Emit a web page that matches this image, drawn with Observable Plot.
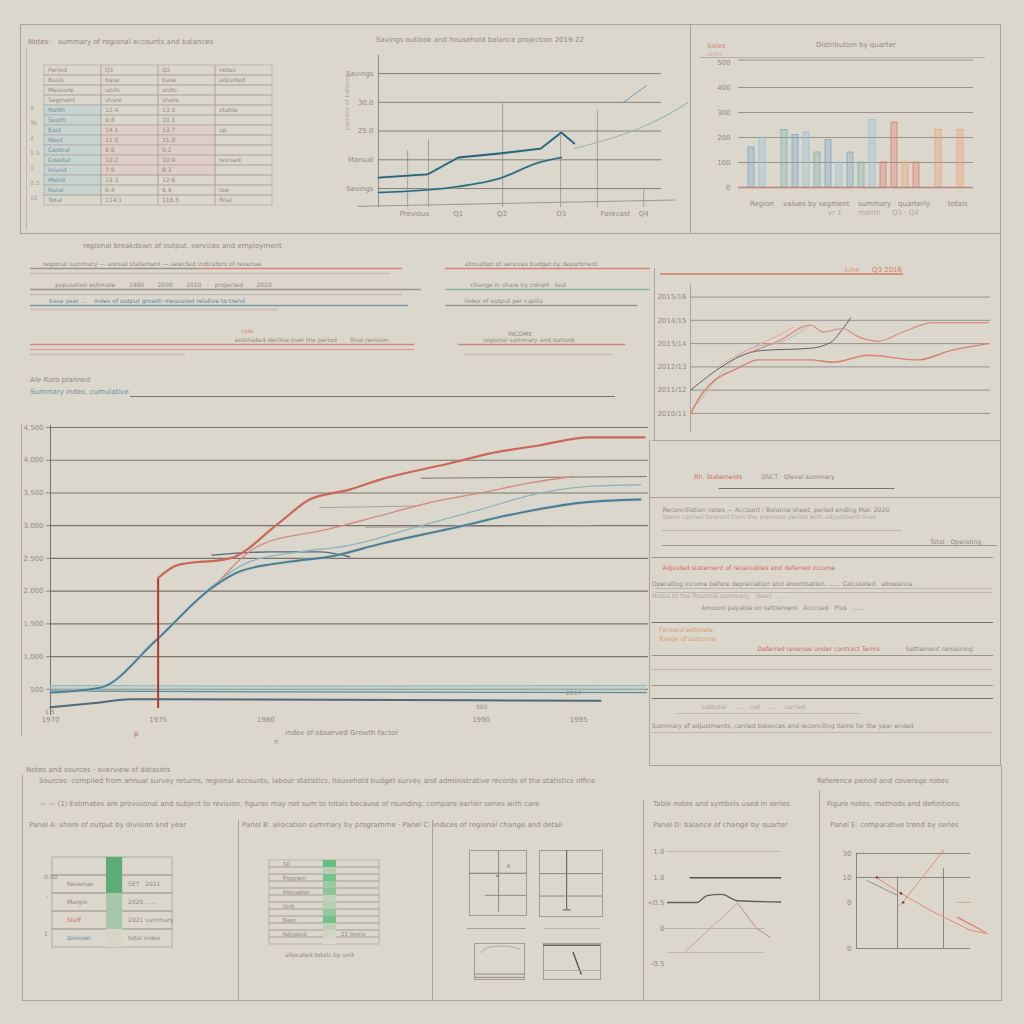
<!DOCTYPE html>
<html><head><meta charset="utf-8">
<script src="https://cdn.jsdelivr.net/npm/d3@7"></script>
<script src="https://cdn.jsdelivr.net/npm/@observablehq/plot@0.6"></script>
<style>
html,body{margin:0;padding:0;background:#dcd7cd;}
#page{position:relative;width:1024px;height:1024px;overflow:hidden;background:#dcd7cd;font-family:"DejaVu Sans",sans-serif;}
.ln{position:absolute;background:#a8a49c;}
.tx{position:absolute;font-size:7px;line-height:8px;color:#8e8a83;white-space:nowrap;font-family:"DejaVu Sans",sans-serif;}
.pl{position:absolute;}
.pl svg{overflow:visible;}
</style></head><body><div id="page"></div>
<script>
// ================= DATA =================
// --- top-left table ---
const tableCols = ["Item","2019","2020","Remarks"];
const tableRows = ["Period","Basis","Measure","Segment","North","South","East","West","Central","Coastal","Inland","Metro","Rural","Total"];
const tableQ1 = ["Q1","base","units","share","12.4","9.8","14.1","11.0","8.6","10.2","7.9","13.3","6.4","114.1"];
const tableQ2 = ["Q2","base","units","share","13.0","10.1","13.7","11.8","9.2","10.9","8.3","12.6","6.9","116.5"];
const tableNotes = ["notes","adjusted","","","stable","","up","","","revised","","","low","final"];

// --- top-middle line chart ---
const tmGrid = [1,2,3,4,5];
const tmYLabels = ["Savings","Manual","25.0","30.0","Savings"];
const tmXTicks = [1.4,3.1,4.8,7.1,9.2,10.3];
const tmXLabels = ["Previous","Q1","Q2","Q3","Forecast","Q4"];
const tmDark = [[0,1.38],[1.9,1.49],[3.1,2.08],[4.7,2.22],[6.3,2.39],[7.1,2.95],[7.6,2.57]];
const tmMid = [[0,0.86],[3.1,1.07],[4.7,1.35],[6.2,1.9],[7.1,2.08]];
const tmLight = [[7.6,2.39],[10.2,3.12],[11.5,3.71],[12,3.99]];
const tmShort = [[9.5,3.99],[10.4,4.58]];
const tmBase = [[-0.8,0.38],[11.5,0.6]];
const tmMarkers = [[1.13,2.3],[1.94,2.7],[4.82,3.95],[7.07,2.95],[8.5,3.7],[10.3,0.95]];

// --- top-right bar chart ---
const barVals = [1.6,2.0,null,2.3,2.1,2.2,1.4,1.9,1.0,1.4,1.0,2.7,1.0,2.6,1.0,1.0,null,2.3,null,2.3];
const barGroup = ["a","b","a","c","a","b","c","a","b","a","c","b","r","r","o","r","r","o","r","o"];
const barYLabels = ["0","100","200","300","400","500"];

// --- middle-right line chart ---
const mrYLabels = ["2010/11","2011/12","2012/13","2013/14","2014/15","2015/16"];
const mrDark = [[0,1.0],[2.8,2.7],[4.8,2.8],[5.6,3.05],[6.1,3.65],[6.4,4.1]];
const mrRed1 = [[0,0],[0.5,0.9],[2,2.0],[2.7,2.3],[4.8,2.3],[5.7,2.2],[7.1,2.5],[9.1,2.3],[10.4,2.7],[11.9,3.0]];
const mrRed2 = [[2.3,2.6],[3.5,3.1],[4.8,3.8],[5.3,3.5],[6.1,3.65],[6.7,3.3],[7.5,3.1],[8.5,3.5],[9.7,3.9],[11.9,3.9]];
const mrLight = [[0.3,0.43],[2.4,2.8],[3.7,3.1],[4.8,3.8]];
const mrRose = [[1.2,2.1],[2.6,2.9],[3.6,3.4],[4.1,3.7]];

// --- main line chart ---
const mainGrid = [1,2,3,4,5,6,7,8,9];
const mainYLabels = ["500","1,000","1,500","2,000","2,500","3,000","3,500","4,000","4,500"];
const mainXTicks = [0,5.4,10.8,21.6,26.5];
const mainXLabels = ["1970","1975","1980","1990","1995"];
const mainRedDrop = [[5.4,0.45],[5.4,4.4]];
const mainRed = [[5.4,4.4],[6.4,4.8],[9,5.0],[11.5,6.1],[13,6.8],[15,7.1],[16.5,7.4],[18.5,7.7],[20,7.9],[22,8.2],[24.5,8.45],[27,8.7],[29.8,8.7]];
const mainBlue = [[0,0.9],[2.5,1.05],[5.3,2.5],[8.1,4.1],[9.5,4.6],[12,4.9],[14,5.05],[16.6,5.45],[20,5.9],[23.6,6.4],[26.6,6.7],[29.6,6.8]];
const mainTeal = [[7.8,4.0],[10,4.9],[12.5,5.2],[15,5.4],[18.6,6.0],[21.6,6.5],[24.6,7.0],[27,7.2],[29.6,7.25]];
const mainRose = [[8.3,4.2],[10.5,5.4],[14,5.9],[16.5,6.3],[19,6.7],[21.6,7.0],[24,7.3],[26.2,7.5]];
const mainSlate = [[8.1,5.1],[11,5.2],[13.5,5.2],[15,5.05]];
const mainBase = [[0,0.45],[2.5,0.6],[4,0.7],[14,0.68],[27.6,0.65]];
const mainBand = [[0,1.12,0.95],[12,1.1,0.92],[29.9,1.12,0.9]];
const mainGray1 = [[18.6,7.45],[29.9,7.5]];
const mainGray2 = [[13.5,6.55],[18.3,6.6]];
const mainGray3 = [[15.8,5.95],[27.2,6.0]];

// --- middle-left strips (row in text lines, from/to in % of width) ---
const stripRows = [
 {row:0, from:0, to:27, kind:"gray"},{row:0, from:27, to:60, kind:"red"},{row:0.5, from:0, to:58, kind:"pale"},
 {row:0, from:67, to:100, kind:"red"},
 {row:2.1, from:0, to:63, kind:"gray"},{row:2.6, from:0, to:60, kind:"pale"},{row:2.1, from:67, to:100, kind:"teal"},
 {row:3.7, from:0, to:61, kind:"blue"},{row:4.1, from:0, to:40, kind:"pale"},{row:3.7, from:67, to:98, kind:"gray"},
 {row:7.6, from:0, to:62, kind:"red"},{row:8.1, from:0, to:62, kind:"rose"},{row:7.6, from:69, to:96, kind:"red"},
 {row:8.6, from:0, to:25, kind:"pale"},{row:8.6, from:70, to:94, kind:"pale"}
];
const stripTexts = [
 {row:0, at:2, text:"regional summary — annual statement — selected indicators of revenue", kind:"gray"},
 {row:0, at:70, text:"allocation of services budget by department", kind:"gray"},
 {row:2.1, at:4, text:"population estimate   ·   1990   ·   2000   ·   2010   ·   projected   ·   2020", kind:"gray"},
 {row:2.1, at:71, text:"change in share by cohort · teal", kind:"gray"},
 {row:3.7, at:3, text:"base year ...    index of output growth measured relative to trend", kind:"blue"},
 {row:3.7, at:70, text:"index of output per capita", kind:"gray"},
 {row:6.7, at:34, text:"rate", kind:"rose"},
 {row:7.6, at:33, text:"estimated decline over the period   ·   final revision", kind:"gray"},
 {row:7.6, at:73, text:"regional summary and outlook", kind:"gray"},
 {row:7.0, at:77, text:"INCOME", kind:"gray"}
];

// --- right ledger panel ---
const ledgerRules = [
 {row:4.8, from:20, to:70, kind:"dark"},{row:9.0, from:4, to:72, kind:"light"},{row:10.5, from:4, to:99, kind:"mid"},
 {row:11.7, from:1, to:98, kind:"mid"},{row:14.8, from:2, to:98, kind:"light"},{row:15.2, from:2, to:98, kind:"light"},
 {row:18.2, from:1, to:98, kind:"dark"},{row:21.5, from:1, to:98, kind:"mid"},{row:22.9, from:1, to:98, kind:"light"},
 {row:24.5, from:1, to:98, kind:"mid"},{row:25.8, from:1, to:98, kind:"dark"},{row:27.3, from:8, to:60, kind:"light"},
 {row:29.2, from:1, to:98, kind:"light"}
];
const ledgerTexts = [
 {row:3.7, at:13, text:"Rh. Statements", kind:"red"},
 {row:3.7, at:32, text:"DSCT · Qlevel summary", kind:"gray"},
 {row:7.0, at:4, text:"Reconciliation notes — Account / Balance sheet, period ending Mar. 2020", kind:"gray"},
 {row:7.7, at:4, text:"items carried forward from the previous period with adjustment lines", kind:"light"},
 {row:10.2, at:80, text:"Total · Operating", kind:"gray"},
 {row:12.8, at:4, text:"Adjusted statement of receivables and deferred income", kind:"red"},
 {row:14.4, at:1, text:"Operating income before depreciation and amortisation ....... Calculated   allowance", kind:"gray"},
 {row:15.6, at:1, text:"Notes to the financial summary   (see)   ......", kind:"light"},
 {row:16.8, at:15, text:"Amount payable on settlement   Accrued   Plus   ......", kind:"gray"},
 {row:19.0, at:3, text:"Forward estimate", kind:"orange"},
 {row:19.9, at:3, text:"Range of outcome", kind:"orange"},
 {row:20.9, at:31, text:"Deferred revenue under contract Terms", kind:"red"},
 {row:20.9, at:73, text:"Settlement remaining", kind:"gray"},
 {row:26.7, at:15, text:"subtotal   ......   net   ......   carried", kind:"light"},
 {row:28.6, at:1, text:"Summary of adjustments, carried balances and reconciling items for the year ended", kind:"gray"}
];

// --- bottom panels ---
const p1Rows = ["Header","Revenue","Margin","Staff","Division"];
const p1Values = ["","SET   2021","2020 ......","2021 summary","total index"];
const p1Shade = [0.85,0.85,0.35,0.35,0.05];
const p1Kind = ["gray","gray","gray","red","blue"];
const p2Rows = ["SD","a","Program","b","Allocation","c","Unit","d","Base","e","Adjusted","f"];
const p2Values = ["","","","","","","","","","","21 items",""];
const p2Shade = [0.9,0.3,0.8,0.5,0.65,0.2,0.3,0.55,0.8,0.25,0.1,0];
const p4Labels = ["1.0","1.0","<0.5","0","-0.5"];
const p4Ticks = [4,2.96,1.98,0.95,-0.43];
const p4Top = [[0,4],[10,4]];
const p4Mid = [[2,2.96],[10,2.96]];
const p4Curve = [[0,1.98],[2.6,1.98],[3.5,2.25],[4.8,2.3],[6.2,2.05],[10,2.0]];
const p4Up = [[1.6,0.05],[6.2,1.95]];
const p4Down = [[6.2,1.95],[7.9,0.95],[9.1,0.6]];
const p4Base = [[-0.5,0.95],[8.5,0.95]];
const p4Low = [[0,0],[8.5,0]];
const p5Labels = ["30","10","0","0"];
const p5Ticks = [3,2.02,1,-0.88];
const p5Red1 = [[7.63,3.12],[4.04,1.0],[3.6,0.8]];
const p5Red2 = [[1.75,2.02],[3.9,1.37],[6.5,0.67],[10,-0.14],[11.5,-0.27]];
const p5Red3 = [[8.86,0.39],[11.3,-0.22]];
const p5Gray = [[0.9,1.9],[3.6,1.29]];
const p5Short = [[8.8,1],[10,1]];
const p5Verticals = [[0,3],[3.6,2.02],[7.63,2.4]];

// ================= HELPERS =================
const P = document.getElementById("page");
const ST = {background:"transparent", fontFamily:"DejaVu Sans, sans-serif", fontSize:"7px", color:"#8e8a83", overflow:"visible"};
const GRID = "#5f5b55";
const kindColors = {domain:["gray","red","pale","teal","blue","rose","dark","mid","light","orange"],
  range:["#9a968f","#d28678","#c3bcb3","#8fb3a8","#7c98a5","#d9a59b","#76726c","#9a968f","#bdb7ae","#dca171"]};
const textColors = {gray:"#8e8a83", red:"#cf6b5f", light:"#aea9a1", blue:"#5f89a0", orange:"#d99b6a", rose:"#cf8b80"};
function put(node, x, y){ const d=document.createElement("div"); d.className="pl"; d.style.left=x+"px"; d.style.top=y+"px"; d.appendChild(node); P.appendChild(d); }
function hl(x1,x2,y,c,w){ const d=document.createElement("div"); d.className="ln"; d.style.left=x1+"px"; d.style.top=y+"px"; d.style.width=(x2-x1)+"px"; d.style.height=(w||1)+"px"; if(c) d.style.background=c; P.appendChild(d); }
function vl(x,y1,y2,c,w){ const d=document.createElement("div"); d.className="ln"; d.style.left=x+"px"; d.style.top=y1+"px"; d.style.height=(y2-y1)+"px"; d.style.width=(w||1)+"px"; if(c) d.style.background=c; P.appendChild(d); }
function txt(s,x,y,o={}){ const d=document.createElement("div"); d.className="tx"; d.textContent=s; d.style.left=x+"px"; d.style.top=y+"px";
  if(o.c) d.style.color=o.c; if(o.s) d.style.fontSize=o.s+"px";
  if(o.i) d.style.fontStyle="italic"; if(o.rot){d.style.transform="rotate(-90deg)"; d.style.transformOrigin="left top";} P.appendChild(d); }
const xy = {x:d=>d[0], y:d=>d[1]};
const L = (data, stroke, w, extra={}) => Plot.line(data, {...xy, stroke, strokeWidth:w, curve:"monotone-x", ...extra});

// ================= FRAMES =================
hl(20,1000,24); hl(20,1000,233); vl(20,24,234); vl(690,24,234); vl(1000,24,440);
vl(26,48,230,"#bdb8af"); hl(700,985,57,"#b4afa7");
vl(654,268,440); hl(652,1000,440);
vl(649,440,765); hl(649,1000,497); hl(649,1002,765); vl(1000,440,765);
hl(130,615,396,"#77736d"); vl(21,424,736,"#b0aca4");
vl(22,775,1000); hl(22,1002,1000); vl(1001,765,1000);
vl(238,820,1000); vl(432,820,1000); vl(643,800,1000); vl(819,790,1000);
hl(467,526,928,"#a29e96"); hl(544,600,928,"#b9b4ab");

// ================= TITLES & TEXT =================
txt("Notes:",28,38,{c:"#9a7f72"});
txt("summary of regional accounts and balances",58,38);
txt("Savings outlook and household balance projection 2019-22",376,36);
txt("Sales",707,42,{c:"#d08f83"}); txt("units",707,50,{c:"#d8a89e",s:6});
txt("Distribution by quarter",816,41);
txt("Region",750,200); txt("values by segment",783,200);
txt("summary",858,200); txt("quarterly",898,200); txt("totals",948,200);
txt("yr 1",828,209,{c:"#b0aaa1"}); txt("month",858,209,{c:"#b0aaa1"}); txt("Q3 · Q4",892,209,{c:"#b0aaa1"});
txt("regional breakdown of output, services and employment",83,242);
txt("Line",845,266,{c:"#d8957f"}); txt("Q3 2016",872,266,{c:"#cf7d6c"});
txt("Ale Roro   planned",30,376,{i:true}); txt("Summary index, cumulative",30,388,{c:"#6d8ea0"});
txt("index of observed Growth factor",285,729);
txt("p",134,730,{c:"#b56458"}); txt("n",274,738);
txt("Notes and sources · overview of datasets",26,766);
txt("Sources: compiled from annual survey returns, regional accounts, labour statistics, household budget survey and administrative records of the statistics office",39,777);
txt("Reference period and coverage notes",817,777);
txt("— — (1) Estimates are provisional and subject to revision; figures may not sum to totals because of rounding; compare earlier series with care",39,800);
txt("Table notes and symbols used in series",653,800);
txt("Figure notes, methods and definitions",827,800);
txt("Panel A: share of output by division and year",29,821);
txt("Panel B: allocation summary by programme · Panel C: indices of regional change and detail",242,821);
txt("Panel D: balance of change by quarter",653,821);
txt("Panel E: comparative trend by series",830,821);
txt("0.00",44,873,{s:6}); txt("·",46,893); txt("1",44,930,{s:6});
txt("allocated totals by unit",285,951,{s:6});

// ================= CHARTS =================
// top-left table
const tableCells = [];
tableRows.forEach((r,i)=>tableCols.forEach((c,j)=>tableCells.push({row:r,col:c,i,j,
  text: j===0 ? r : j===1 ? tableQ1[i] : j===2 ? tableQ2[i] : tableNotes[i]})));
const tableTint = d => (d.j===0 && d.i>=4 && d.i<=12) ? "#c5d3d1" : ((d.j===1||d.j===2) && d.i>=6 && d.i<=10) ? "#dfcbc5" : "none";
put(Plot.plot({width:236, height:154, margin:3, style:ST,
  x:{domain:tableCols, axis:null, padding:0}, y:{domain:tableRows, axis:null, padding:0}, color:{type:"identity"},
  marks:[
    Plot.cell(tableCells,{x:"col", y:"row", fill:tableTint, stroke:"#a8a49c", strokeWidth:0.6, fillOpacity:0.85}),
    Plot.text(tableCells,{x:"col", y:"row", text:"text", fontSize:6, textAnchor:"start", dx:-25,
      fill:d=> d.j===0 && d.i>=4 ? "#6f8f99" : "#918d86"})
  ]}), 40, 58);
["5","3k","2","1.5","1","0.5","10"].forEach((s,i)=>txt(s,30,104+i*15,{s:6,c:"#9aa0a0"}));

// top-middle line chart
put(Plot.plot({width:350, height:195, marginLeft:38, marginRight:3, marginTop:25, marginBottom:18, style:ST,
  x:{domain:[0,12], ticks:tmXTicks, tickFormat:d=>tmXLabels[tmXTicks.indexOf(d)], tickSize:0, tickPadding:4, label:null},
  y:{domain:[0.34,5.63], ticks:tmGrid, tickFormat:d=>tmYLabels[tmGrid.indexOf(d)], tickSize:0, tickPadding:5, label:null},
  marks:[
    Plot.ruleY(tmGrid,{stroke:GRID, strokeOpacity:0.7, x1:0, x2:11}),
    Plot.ruleX([0],{stroke:GRID, strokeOpacity:0.6}),
    Plot.ruleX(tmMarkers,{x:d=>d[0], y1:0.34, y2:d=>d[1], stroke:"#8d8983", strokeOpacity:0.7}),
    L(tmBase,"#8c8882",0.8,{curve:"linear"}),
    L(tmMid,"#9fc9d2",3,{strokeOpacity:0.6}),
    L(tmMid,"#2f6777",1.6),
    L(tmDark,"#9fc9d2",3,{strokeOpacity:0.6, curve:"linear"}),
    L(tmDark,"#2a6474",1.8,{curve:"linear"}),
    L(tmLight,"#9db6bd",1.1),
    L(tmShort,"#6f9aa6",1,{curve:"linear"})
  ]}), 340, 30);
txt("percent of balance",343,130,{rot:true,s:6,c:"#aaa59e"});

// top-right bar chart
const barData = barVals.map((v,i)=>({i, v, g:barGroup[i]})).filter(d=>d.v!=null);
put(Plot.plot({width:300, height:185, marginLeft:43, marginRight:22, marginTop:25, marginBottom:28, style:ST,
  x:{domain:d3.range(barVals.length), axis:null, padding:0.5},
  y:{domain:[0,5.28], ticks:[0,1,2,3,4,5], tickFormat:d=>barYLabels[d], tickSize:0, tickPadding:8, label:null},
  color:{domain:["a","b","c","r","o"], range:["#7aaac6","#94c2d4","#7db3ae","#dd7f6f","#e7a676"]},
  marks:[
    Plot.ruleY([1,2,3,4,5.1],{stroke:GRID, strokeOpacity:0.55}),
    Plot.ruleX([0],{x:-0.6, stroke:GRID, strokeOpacity:0.6}),
    Plot.barY(barData,{x:"i", y:"v", fill:"g", fillOpacity:0.35, stroke:"g", strokeWidth:0.8}),
    Plot.ruleY([0],{stroke:"#e2a497", strokeWidth:3, strokeOpacity:0.55}),
    Plot.ruleY([0],{stroke:"#8d8983", strokeWidth:0.8})
  ]}), 695, 30);

// middle-right line chart
put(Plot.plot({width:348, height:178, marginLeft:38, marginRight:10, marginTop:22, marginBottom:8, style:ST,
  x:{domain:[0,12], axis:null},
  y:{domain:[-0.82,5.54], ticks:[0,1,2,3,4,5], tickFormat:d=>mrYLabels[d], tickSize:0, tickPadding:4, label:null},
  marks:[
    Plot.ruleY([0,1,2,3,4,5],{stroke:GRID, strokeOpacity:0.55}),
    Plot.ruleX([0],{stroke:"#aaa59d"}),
    L(mrLight,"#aeb6b8",0.9),
    L(mrRose,"#e0a699",1),
    L(mrDark,"#5d5f62",1),
    L(mrRed2,"#d98c7c",1.2),
    L(mrRed1,"#d9806f",1.4)
  ]}), 652, 262);
hl(660,903,273,"#d9927f",1.5);

// middle-left text strips
put(Plot.plot({width:630, height:115, marginLeft:10, marginRight:0, marginTop:0, marginBottom:0, style:ST,
  x:{domain:[0,100], axis:null}, y:{domain:[9.7,-1.8], axis:null}, color:kindColors,
  marks:[
    Plot.ruleY(stripRows,{y:"row", x1:"from", x2:"to", stroke:"kind", strokeWidth:1.3}),
    Plot.text(stripTexts,{x:"at", y:"row", text:"text", textAnchor:"start", dy:-4, fontSize:6, fill:d=>textColors[d.kind]})
  ]}), 20, 250);

// main line chart
put(Plot.plot({width:650, height:320, marginLeft:50, marginRight:2, marginTop:15, marginBottom:15, style:ST,
  x:{domain:[0,30], ticks:mainXTicks, tickFormat:d=>mainXLabels[mainXTicks.indexOf(d)], tickSize:0, tickPadding:2, label:null},
  y:{domain:[0.2,9.06], ticks:mainGrid, tickFormat:d=>mainYLabels[mainGrid.indexOf(d)], tickSize:4, tickPadding:3, label:null},
  marks:[
    Plot.ruleY(mainGrid,{stroke:GRID, strokeOpacity:0.8, strokeWidth:1.1}),
    Plot.ruleX([0],{stroke:GRID, strokeOpacity:0.8}),
    Plot.areaY(mainBand,{x:d=>d[0], y1:d=>d[1], y2:d=>d[2], fill:"#a7c9c8", fillOpacity:0.45}),
    L(mainBand.map(d=>[d[0],d[1]]),"#8db8b9",1),
    L(mainBand.map(d=>[d[0],d[2]]),"#5f8d95",1.3),
    L(mainBase,"#52697a",2),
    L(mainGray1,"#7b7771",1,{curve:"linear"}),
    L(mainGray2,"#a29e97",0.9,{curve:"linear"}),
    L(mainGray3,"#9a968f",0.9,{curve:"linear"}),
    L(mainSlate,"#4c6b7c",1.4),
    L(mainTeal,"#8fb4be",1.3),
    L(mainRose,"#d48b7f",1.4),
    L(mainBlue,"#a7c7cf",3.5,{strokeOpacity:0.5}),
    L(mainBlue,"#4b7b90",1.9),
    L(mainRedDrop,"#b2372c",2,{curve:"linear"}),
    L(mainRed,"#cc6758",2.2)
  ]}), 0, 410);
txt("1.5",45,708,{s:6}); txt("560",476,703,{s:6}); txt("2017",566,689,{s:6});

// right ledger panel
put(Plot.plot({width:352, height:325, margin:0, style:ST,
  x:{domain:[0,100], axis:null}, y:{domain:[32.5,0], axis:null}, color:kindColors,
  marks:[
    Plot.ruleY(ledgerRules,{y:"row", x1:"from", x2:"to", stroke:"kind", strokeWidth:1}),
    Plot.text(ledgerTexts,{x:"at", y:"row", text:"text", textAnchor:"start", fontSize:6.2, fill:d=>textColors[d.kind]})
  ]}), 648, 440);

// bottom panel 1
const p1Data = p1Rows.map((r,i)=>({row:r, value:p1Values[i], shade:p1Shade[i], kind:p1Kind[i], label: i===0 ? "" : r}));
put(Plot.plot({width:135, height:100, marginLeft:7, marginRight:8, marginTop:3, marginBottom:3, style:ST,
  x:{domain:[0,10], axis:null}, y:{domain:p1Rows, axis:null, padding:0}, color:{type:"identity"},
  marks:[
    Plot.barX(p1Data,{x1:0, x2:10, y:"row", fill:"none", stroke:"#9b978f", strokeWidth:0.7}),
    Plot.barX(p1Data,{x1:4.5, x2:5.85, y:"row", fill:d=>d3.interpolateRgb("#dcd7cd","#47a568")(d.shade)}),
    Plot.text(p1Data,{x:1.2, y:"row", text:"label", textAnchor:"start", fontSize:6, fill:d=>textColors[d.kind]}),
    Plot.text(p1Data,{x:6.3, y:"row", text:"value", textAnchor:"start", fontSize:6, fill:"#8e8a83"})
  ]}), 45, 852);

// bottom panel 2
const p2Data = p2Rows.map((r,i)=>({row:r, shade:p2Shade[i], value:p2Values[i], label: r.length>1 ? r : ""}));
put(Plot.plot({width:124, height:97, marginLeft:7, marginRight:7, marginTop:3, marginBottom:3, style:ST,
  x:{domain:[0,10], axis:null}, y:{domain:p2Rows, axis:null, padding:0}, color:{type:"identity"},
  marks:[
    Plot.barX(p2Data,{x1:0, x2:10, y:"row", fill:"none", stroke:"#a29e96", strokeWidth:0.6}),
    Plot.barX(p2Data,{x1:4.9, x2:6.1, y:"row", fill:d=>d3.interpolateRgb("#dcd7cd","#5cbb78")(d.shade)}),
    Plot.text(p2Data,{x:1.2, y:"row", text:"label", textAnchor:"start", fontSize:5.5, fill:"#8e8a83"}),
    Plot.text(p2Data,{x:6.5, y:"row", text:"value", textAnchor:"start", fontSize:5.5, fill:"#8e8a83"})
  ]}), 262, 853);

// bottom panel 3 (four mini charts)
const mini = (w,h,marks) => Plot.plot({width:w, height:h, margin:0, style:ST, x:{domain:[0,10],axis:null}, y:{domain:[0,10],axis:null}, marks:[Plot.frame({stroke:"#a19d95"}), ...marks]});
put(mini(57,65,[
  Plot.ruleX([5.1],{y1:0.5, y2:10, stroke:"#8e8a83"}),
  Plot.ruleY([6.5],{stroke:"#7e7a74"}), Plot.ruleY([3.1],{x1:2.8, x2:10, stroke:"#8e8a83"}),
  Plot.text(["A"],{x:6.8, y:7.6, text:d=>d, fontSize:6, fill:"#b07d72"}), Plot.dot([[4.9,6.1]],{...xy, r:1.2, fill:"#9a7f72"})
]), 469, 850);
put(mini(63,66,[
  Plot.ruleX([4.3],{y1:1, y2:10, stroke:"#6f6b66", strokeWidth:1.2}),
  Plot.ruleY([6.5],{stroke:"#8e8a83"}), Plot.ruleY([3.1],{stroke:"#8e8a83"}),
  Plot.ruleY([1],{x1:3.8, x2:5, stroke:"#56524d"})
]), 539, 850);
put(mini(50,36,[
  L([[1.2,7.5],[3,9],[6,9.3],[9,8.5]],"#aaa59d",0.9),
  Plot.ruleY([1.5,0.6],{stroke:"#8e8a83"})
]), 474, 943);
put(mini(57,36,[
  Plot.ruleY([9.5],{stroke:"#67635e", strokeWidth:1.5}),
  L([[5.2,7.5],[6.6,1.5]],"#4e4b47",1.3,{curve:"linear"}),
  Plot.ruleY([2.5],{stroke:"#b0aba3"})
]), 543, 943);

// bottom panel 4
put(Plot.plot({width:140, height:130, marginLeft:17, marginRight:10, marginTop:0, marginBottom:0, style:ST,
  x:{domain:[0,10], axis:null},
  y:{domain:[-0.71,4.43], ticks:p4Ticks, tickFormat:d=>p4Labels[p4Ticks.indexOf(d)], tickSize:0, tickPadding:3, label:null},
  marks:[
    L(p4Top,"#bdb8b0",1,{curve:"linear"}),
    L(p4Mid,"#55524e",1.6,{curve:"linear"}),
    L(p4Curve,"#615e59",1.4),
    L(p4Base,"#b9b4ab",1,{curve:"linear"}),
    L(p4Low,"#bdb8b0",1,{curve:"linear"}),
    L(p4Up,"#c9a194",1,{curve:"linear"}),
    L(p4Down,"#c78f82",1,{curve:"linear"})
  ]}), 650, 840);

// bottom panel 5
put(Plot.plot({width:165, height:120, marginLeft:26, marginRight:25, marginTop:0, marginBottom:0, style:ST,
  x:{domain:[0,10], axis:null},
  y:{domain:[-1.37,3.53], ticks:p5Ticks, tickFormat:d=>p5Labels[p5Ticks.indexOf(d)], tickSize:0, tickPadding:5, label:null},
  marks:[
    Plot.ruleY([3,2.02,-0.88],{stroke:"#6e6a65", strokeOpacity:0.75}),
    Plot.ruleX(p5Verticals,{x:d=>d[0], y1:-0.88, y2:d=>d[1], stroke:"#6e6a65", strokeOpacity:0.75}),
    L(p5Gray,"#8e8a83",0.9,{curve:"linear"}),
    L(p5Red1,"#e08f7b",1,{curve:"linear"}),
    L(p5Red2,"#df8d7b",1,{curve:"linear"}),
    L(p5Red3,"#e27a66",1.2,{curve:"linear"}),
    L(p5Short,"#e3a08f",1,{curve:"linear"}),
    Plot.dot([[1.8,2.02],[3.9,1.37],[4.1,1.0]],{...xy, r:1.3, fill:"#6b4e48"})
  ]}), 830, 840);
</script></body></html>
